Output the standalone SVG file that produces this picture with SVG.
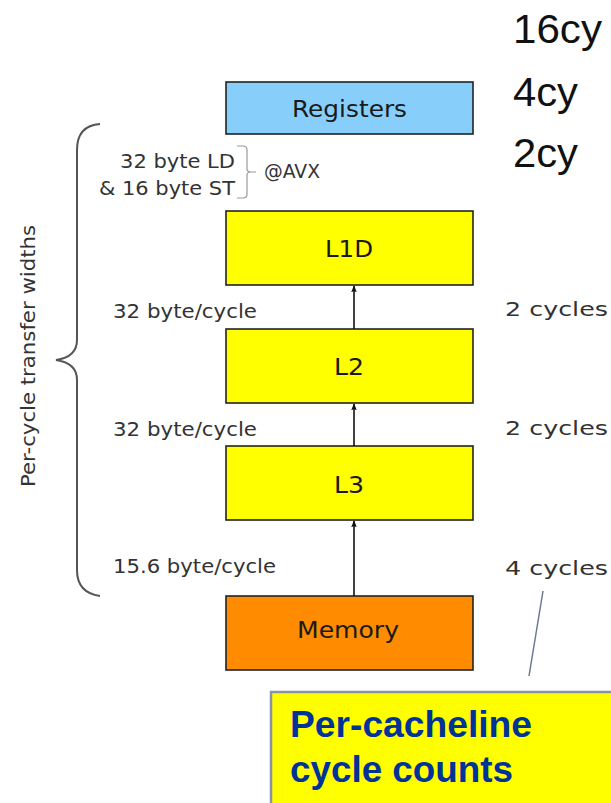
<svg xmlns="http://www.w3.org/2000/svg" width="611" height="803" viewBox="0 0 611 803">
  <style>
    .box { stroke: #222; stroke-width: 1.6; }
    .lbl { font-family: "DejaVu Sans", sans-serif; font-size: 20px; fill: #333; }
    .name { font-family: "DejaVu Sans", sans-serif; font-size: 23px; fill: #1a1a1a; text-anchor: middle; }
    .cy { font-family: "Liberation Sans", Arial, sans-serif; font-size: 40px; fill: #111; }
    .conn { stroke: #111; stroke-width: 1.6; fill: none; marker-end: url(#arr); }
    .brace { stroke: #555; stroke-width: 2; fill: none; }
    .note { font-family: "Liberation Sans", Arial, sans-serif; font-size: 36px; font-weight: bold; fill: #003399; }
  </style>
  <defs>
    <marker id="arr" viewBox="0 0 10 10" refX="9" refY="5" markerWidth="7" markerHeight="9" markerUnits="userSpaceOnUse" orient="auto">
      <path d="M0,1 L10,5 L0,9 L2,5 z" fill="#111"/>
    </marker>
  </defs>
  <rect width="611" height="803" fill="#fff"/>

  <!-- latency figures -->
  <text class="cy" x="513" y="43" textLength="89" lengthAdjust="spacingAndGlyphs">16cy</text>
  <text class="cy" x="513" y="106" textLength="65" lengthAdjust="spacingAndGlyphs">4cy</text>
  <text class="cy" x="513" y="167" textLength="65" lengthAdjust="spacingAndGlyphs">2cy</text>

  <!-- memory hierarchy -->
  <g id="registers">
    <rect class="box" x="226" y="82" width="247" height="52" fill="#87CEFA"/>
    <text class="name" x="349.5" y="117" textLength="115" lengthAdjust="spacingAndGlyphs">Registers</text>
  </g>
  <g id="l1d">
    <rect class="box" x="226" y="211" width="247" height="74" fill="#FFFF00"/>
    <text class="name" x="349" y="257" textLength="48" lengthAdjust="spacingAndGlyphs">L1D</text>
  </g>
  <g id="l2">
    <rect class="box" x="226" y="329" width="247" height="74" fill="#FFFF00"/>
    <text class="name" x="349" y="375" textLength="30" lengthAdjust="spacingAndGlyphs">L2</text>
  </g>
  <g id="l3">
    <rect class="box" x="226" y="446" width="247" height="74" fill="#FFFF00"/>
    <text class="name" x="349" y="493" textLength="30" lengthAdjust="spacingAndGlyphs">L3</text>
  </g>
  <g id="memory">
    <rect class="box" x="226" y="596" width="247" height="74" fill="#FF8C00"/>
    <text class="name" x="348" y="638" textLength="102" lengthAdjust="spacingAndGlyphs">Memory</text>
  </g>

  <g id="connectors">
    <line class="conn" x1="354" y1="329" x2="354" y2="286"/>
    <line class="conn" x1="354" y1="446" x2="354" y2="404"/>
    <line class="conn" x1="354" y1="596" x2="354" y2="521"/>
  </g>

  <!-- transfer widths -->
  <g id="widths">
    <text class="lbl" x="120" y="168" textLength="115" lengthAdjust="spacingAndGlyphs">32 byte LD</text>
    <text class="lbl" x="99" y="195" textLength="136" lengthAdjust="spacingAndGlyphs">&amp; 16 byte ST</text>
    <path d="M237,146 h6 q4,0 4,4 v19 q0,3 4,3 h5 M251,172 q-4,0 -4,3 v19 q0,4 -4,4 h-6" stroke="#999" stroke-width="1.2" fill="none"/>
    <text class="lbl" x="264" y="178" font-size="17" textLength="56" lengthAdjust="spacingAndGlyphs">@AVX</text>
    <text class="lbl" x="113" y="318" textLength="144" lengthAdjust="spacingAndGlyphs">32 byte/cycle</text>
    <text class="lbl" x="113" y="436" textLength="144" lengthAdjust="spacingAndGlyphs">32 byte/cycle</text>
    <text class="lbl" x="113" y="573" textLength="163" lengthAdjust="spacingAndGlyphs">15.6 byte/cycle</text>
    <path class="brace" d="M100,124 C86,125 77,133 77,150 V340 C77,352 70,358 56,360 C70,362 77,368 77,380 V570 C77,586 86,594 100,596"/>
    <text class="lbl" transform="translate(35,356) rotate(-90)" text-anchor="middle" textLength="262" lengthAdjust="spacingAndGlyphs">Per-cycle transfer widths</text>
  </g>

  <!-- per-cacheline cycles -->
  <g id="cycles">
    <text class="lbl" x="505" y="316" font-size="21" textLength="103" lengthAdjust="spacingAndGlyphs">2 cycles</text>
    <text class="lbl" x="505" y="435" font-size="21" textLength="103" lengthAdjust="spacingAndGlyphs">2 cycles</text>
    <text class="lbl" x="505" y="575" font-size="21" textLength="103" lengthAdjust="spacingAndGlyphs">4 cycles</text>
  </g>

  <g id="callout">
    <line x1="543" y1="591" x2="529" y2="676" stroke="#6a7a94" stroke-width="1.5"/>
    <rect x="271" y="692" width="345" height="120" fill="#FFFF00" stroke="#8a94a8" stroke-width="2.5"/>
    <text class="note" x="290" y="737" textLength="242" lengthAdjust="spacingAndGlyphs">Per-cacheline</text>
    <text class="note" x="290" y="782" textLength="223" lengthAdjust="spacingAndGlyphs">cycle counts</text>
  </g>
</svg>
